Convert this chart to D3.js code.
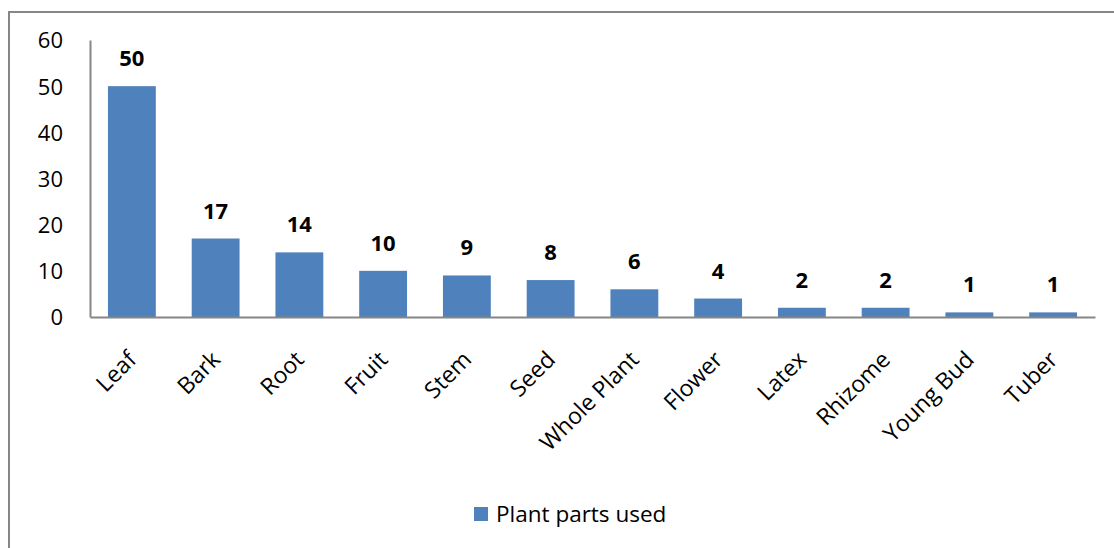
<!DOCTYPE html>
<html>
<head>
<meta charset="utf-8">
<script src="https://cdn.jsdelivr.net/npm/d3@7"></script>
<style>
  body { margin: 0; background: #fff; }
  text { font-family: "Open Sans", Lato, sans-serif; fill: #000; }
</style>
</head>
<body>
<div id="chart"></div>
<script>
// data
const categories = ["Leaf", "Bark", "Root", "Fruit", "Stem", "Seed", "Whole Plant", "Flower", "Latex", "Rhizome", "Young Bud", "Tuber"];
const counts = [50, 17, 14, 10, 9, 8, 6, 4, 2, 2, 1, 1];
const yTicks = [0, 10, 20, 30, 40, 50, 60];
const seriesName = "Plant parts used";

const W = 1114, H = 548;
const plot = { left: 90, right: 1095, top: 40, bottom: 317 };
const barColor = "#4F81BD";
const axisColor = "#868686";

const svg = d3.select("#chart").append("svg")
  .attr("width", W)
  .attr("height", H);

// chart border
svg.append("rect")
  .attr("x", 9).attr("y", 12)
  .attr("width", 1300).attr("height", 700)
  .attr("fill", "none")
  .attr("stroke", axisColor)
  .attr("stroke-width", 2);

const x = d3.scaleBand()
  .domain(categories)
  .range([plot.left, plot.right])
  .paddingInner(0.75 / 1.75)
  .paddingOuter(0.75 / 1.75 / 2);

const y = d3.scaleLinear()
  .domain([0, 60])
  .range([plot.bottom, plot.top]);

const data = categories.map((c, i) => ({ cat: c, value: counts[i] }));

// bars
svg.selectAll(".bar")
  .data(data)
  .enter().append("rect")
  .attr("class", "bar")
  .attr("x", d => x(d.cat))
  .attr("y", d => y(d.value))
  .attr("width", x.bandwidth())
  .attr("height", d => y(0) - y(d.value))
  .attr("fill", barColor);

// y axis
const yAxis = svg.append("g")
  .attr("transform", `translate(${plot.left},0)`)
  .call(d3.axisLeft(y).tickValues(yTicks).tickSize(0).tickPadding(27));
yAxis.select(".domain").attr("stroke", axisColor).attr("stroke-width", 2);
yAxis.selectAll("text")
  .style("font-size", "22px")
  .attr("dy", "0.36em");

// x axis
const xAxis = svg.append("g")
  .attr("transform", `translate(0,${plot.bottom})`)
  .call(d3.axisBottom(x).tickSize(0).tickPadding(0));
xAxis.select(".domain").attr("stroke", axisColor).attr("stroke-width", 2);
xAxis.selectAll("text")
  .style("font-size", "23px")
  .attr("text-anchor", "end")
  .attr("dy", null)
  .attr("y", 0)
  .attr("transform", "translate(6,44) rotate(-45)");

// value labels
svg.selectAll(".val")
  .data(data)
  .enter().append("text")
  .attr("class", "val")
  .attr("x", d => x(d.cat) + x.bandwidth() / 2)
  .attr("y", d => y(d.value) - 20)
  .attr("text-anchor", "middle")
  .style("font-size", "22px")
  .style("font-weight", "bold")
  .text(d => d.value);

// legend
const legend = svg.append("g").attr("transform", "translate(474,507)");
legend.append("rect")
  .attr("width", 14).attr("height", 14)
  .attr("fill", barColor);
legend.append("text")
  .attr("x", 22).attr("y", 15)
  .style("font-size", "22.5px")
  .text(seriesName);
</script>
</body>
</html>
